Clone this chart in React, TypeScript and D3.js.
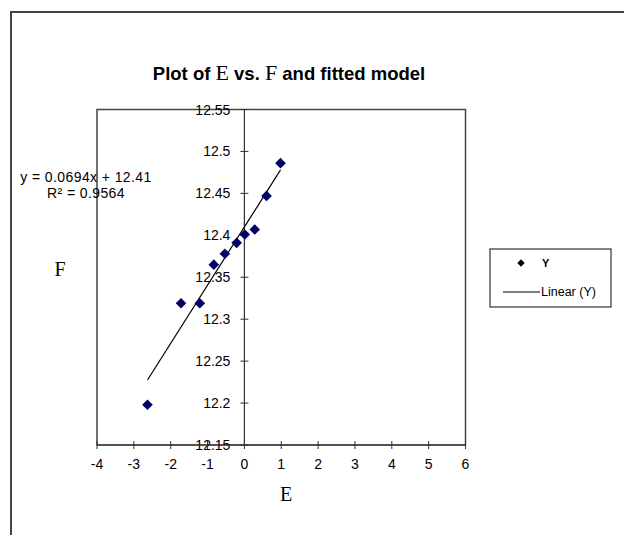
import React from "react";
import * as d3 from "d3";

const xValues = [-2.63, -1.72, -1.21, -0.83, -0.53, -0.21, 0.01, 0.28, 0.6, 0.98];
const yValues = [12.198, 12.319, 12.319, 12.365, 12.378, 12.391, 12.401, 12.407, 12.447, 12.486];
const xTicks = [-4, -3, -2, -1, 0, 1, 2, 3, 4, 5, 6];
const yTicks = [12.15, 12.2, 12.25, 12.3, 12.35, 12.4, 12.45, 12.5, 12.55];
const slope = 0.0694;
const intercept = 12.41;

export default function App() {
  const W = 624, H = 535;
  const x = d3.scaleLinear().domain([-4, 6]).range([97, 465.5]);
  const y = d3.scaleLinear().domain([12.15, 12.55]).range([445, 109.5]);
  const x0 = x(0);
  const xMin = d3.min(xValues)!, xMax = d3.max(xValues)!;
  const diamond = d3.symbol().type(d3.symbolDiamond2).size(72)()!;
  const font = "Arial, 'Liberation Sans', sans-serif";
  const serif = "'Times New Roman', 'Liberation Serif', serif";
  return (
    <svg width={W} height={H} style={{ position: "absolute", left: 0, top: 0, background: "#fff" }}>
      <rect x={11} y={12} width={623} height={540} fill="#fff" stroke="#444" strokeWidth={2} />
      <text x={289} y={80} textAnchor="middle" fontFamily={font} fontWeight="bold" fontSize={18.5} fill="#000">
        Plot of <tspan fontFamily={serif} fontWeight="normal" fontSize={22}>E</tspan> vs. <tspan fontFamily={serif} fontWeight="normal" fontSize={22}>F</tspan> and fitted model
      </text>
      <rect x={x(-4)} y={y(12.55)} width={x(6) - x(-4)} height={y(12.15) - y(12.55)} fill="none" stroke="#444" strokeWidth={1.5} />
      <line x1={x0} x2={x0} y1={y(12.55)} y2={y(12.15)} stroke="#333" strokeWidth={1.2} />
      {yTicks.map((t) => (
        <g key={"y" + t}>
          <line x1={x0 - 4} x2={x0 + 4} y1={y(t)} y2={y(t)} stroke="#333" />
          <text x={x0 - 14} y={y(t) + 5} textAnchor="end" fontFamily={font} fontSize={14} fill="#000">
            {String(t)}
          </text>
        </g>
      ))}
      <line x1={x(-4)} x2={x(6)} y1={y(12.15)} y2={y(12.15)} stroke="#333" strokeWidth={1.2} />
      {xTicks.map((t) => (
        <g key={"x" + t}>
          <line x1={x(t)} x2={x(t)} y1={y(12.15) - 4} y2={y(12.15) + 4} stroke="#333" />
          <text x={x(t)} y={y(12.15) + 24} textAnchor="middle" fontFamily={font} fontSize={14} fill="#000">
            {String(t)}
          </text>
        </g>
      ))}
      <line x1={x(xMin)} y1={y(slope * xMin + intercept)} x2={x(xMax)} y2={y(slope * xMax + intercept)} stroke="#000" strokeWidth={1.2} />
      {xValues.map((v, i) => (
        <path key={i} d={diamond} transform={`translate(${x(v)},${y(yValues[i])})`} fill="#000066" />
      ))}
      <text x={86} y={182} textAnchor="middle" fontFamily={font} fontSize={14} letterSpacing={0.4} fill="#000">y = 0.0694x + 12.41</text>
      <text x={86} y={198} textAnchor="middle" fontFamily={font} fontSize={14} letterSpacing={0.4} fill="#000">R² = 0.9564</text>
      <text x={60} y={276} textAnchor="middle" fontFamily={serif} fontSize={20} fill="#000">F</text>
      <text x={286} y={501} textAnchor="middle" fontFamily={serif} fontSize={20} fill="#000">E</text>
      <rect x={490} y={249} width={121} height={58} fill="#fff" stroke="#333" strokeWidth={1.2} />
      <path d={d3.symbol().type(d3.symbolDiamond2).size(34)()!} transform="translate(521,263)" fill="#000" />
      <text x={542} y={267} fontFamily={font} fontSize={11} fontWeight="bold" fill="#000">Y</text>
      <line x1={503} x2={540} y1={292} y2={292} stroke="#000" strokeWidth={1.2} />
      <text x={541} y={296} fontFamily={font} fontSize={12.5} fill="#000">Linear (Y)</text>
    </svg>
  );
}
